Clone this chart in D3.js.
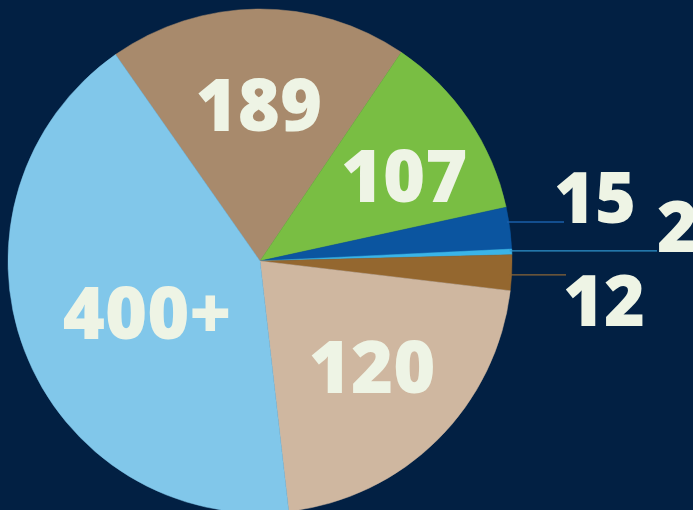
<!DOCTYPE html>
<html>
<head>
<meta charset="utf-8">
<script src="https://cdn.jsdelivr.net/npm/d3@7"></script>
<style>
  html, body { margin: 0; padding: 0; background: #022043; overflow: hidden; }
  svg { display: block; }
</style>
</head>
<body>
<svg id="chart" width="693" height="510"></svg>
<script>
// ---- data (clockwise order, starting at the "189" slice) ----
const labels = ["189", "107", "15", "2", "12", "120", "400+"];
const sliceShare = [19.2, 12.1, 2.67, 0.36, 2.28, 21.3, 42.1]; // share of the circle (%)
const colors = ["#a88a6c", "#79be43", "#0b55a0", "#3ab4e8", "#94672f", "#cfb7a0", "#81c7ea"];
const lineColors = ["#a88a6c", "#79be43", "#1a5ea8", "#2f93cc", "#8a6537", "#cfb7a0", "#81c7ea"];

// ---- layout ----
const W = 693, H = 510;
const cx = 260, cy = 261, R = 252;
const start = 325.0 * Math.PI / 180;
const bigNudge = { "189": [0, 0], "107": [15, 3], "120": [2, -4], "400+": [33, -3] };
const smallLayout = { "15": { dy: -6, lineEnd: 564, textX: 554, hang: false },
                      "2":  { dy: -1, lineEnd: 657, textX: 657, hang: false },
                      "12": { dy: 2,  lineEnd: 566, textX: 563, hang: true } };

const svg = d3.select("#chart");
const g = svg.append("g").attr("transform", `translate(${cx},${cy})`);

const pie = d3.pie().sort(null).value(d => d.v).startAngle(start).endAngle(start + 2 * Math.PI);
const data = labels.map((l, i) => ({ label: l, v: sliceShare[i], color: colors[i], line: lineColors[i] }));
const arcs = pie(data);
const arc = d3.arc().innerRadius(0).outerRadius(R);
const labelArc = d3.arc().innerRadius(156).outerRadius(156);

g.selectAll("path.slice").data(arcs).enter().append("path")
  .attr("class", "slice")
  .attr("d", arc)
  .attr("fill", d => d.data.color)
  .attr("stroke", d => d.data.color)
  .attr("stroke-width", 0.5);

const font = "'Open Sans', 'DejaVu Sans', sans-serif";
const textColor = "#eef4e5";

// big labels inside
arcs.filter(a => a.data.v >= 5).forEach(a => {
  const c = labelArc.centroid(a);
  const n = bigNudge[a.data.label] || [0, 0];
  g.append("text")
    .attr("x", c[0] + n[0]).attr("y", c[1] + n[1])
    .attr("dy", "0.36em")
    .attr("text-anchor", "middle")
    .attr("font-family", font).attr("font-weight", 800).attr("font-size", 72)
    .attr("fill", textColor)
    .text(a.data.label);
});

// small labels with leader lines
arcs.filter(a => a.data.v < 5).forEach(a => {
  const L = smallLayout[a.data.label];
  const mid = (a.startAngle + a.endAngle) / 2;
  const y = -R * Math.cos(mid) + L.dy;
  const x0 = Math.sqrt(R * R - y * y) - 2;
  g.append("line")
    .attr("x1", x0).attr("x2", L.lineEnd - cx)
    .attr("y1", y).attr("y2", y)
    .attr("stroke", a.data.line)
    .attr("stroke-width", 1.3);
  g.append("text")
    .attr("x", L.textX - cx)
    .attr("y", L.hang ? y + 51 : y + 1)
    .attr("text-anchor", "start")
    .attr("font-family", font).attr("font-weight", 800).attr("font-size", 70)
    .attr("fill", textColor)
    .text(a.data.label);
});
</script>
</body>
</html>
